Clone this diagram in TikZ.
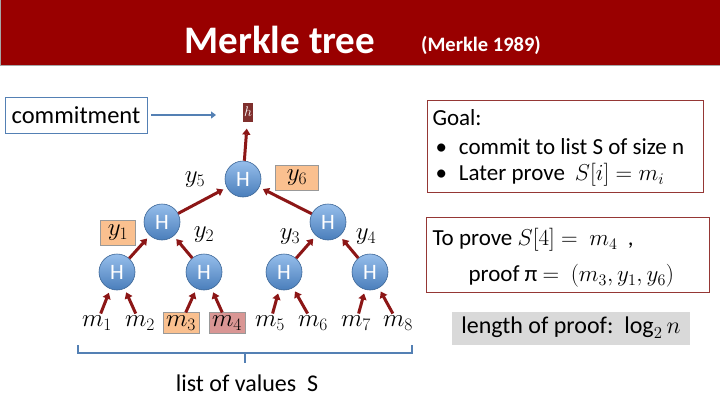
\RequirePackage{fix-cm}
\documentclass[tikz,border=0pt]{standalone}
\usepackage{fontspec}
\setmainfont{Carlito}
\usetikzlibrary{arrows.meta}
\definecolor{titlered}{RGB}{153,0,0}
\definecolor{arrowred}{RGB}{140,22,22}
\definecolor{steel}{RGB}{84,128,180}
\definecolor{boxred}{RGB}{149,55,53}
\definecolor{peach}{RGB}{250,192,143}
\definecolor{rose}{RGB}{217,150,148}
\definecolor{hblue}{RGB}{74,126,187}
\definecolor{hlight}{RGB}{150,190,235}
\tikzset{
  hnode/.style={circle, minimum size=36pt, inner sep=0pt, top color=hlight, bottom color=hblue, draw=hblue!80!black, line width=0.6pt, text=white, font=\fontsize{22}{24}\selectfont},
  redarrow/.style={draw=arrowred, line width=3pt, -{Triangle[length=6pt,width=8pt]}},
  leaf/.style={font=\fontsize{25}{27}\selectfont, inner sep=2pt},
  ylabel/.style={font=\fontsize{25}{27}\selectfont, inner sep=2pt},
  hilite/.style={fill=#1, draw=gray!80, line width=0.6pt, inner sep=3pt},
  boxtext/.style={anchor=west, font=\fontsize{23}{25}\selectfont}
}
\begin{document}
\begin{tikzpicture}[x=1pt,y=-1pt]
  \useasboundingbox (0,0) rectangle (720,405);
  \fill[white] (0,0) rectangle (720,405);
  \filldraw[fill=titlered, draw=gray!70] (0,-1) rectangle (720,65);
  \node (title) at (280,40) [text=white, font=\fontsize{39}{42}\selectfont\bfseries] {Merkle tree};
  \node (year) at (481,45) [text=white, font=\fontsize{20.5}{23}\selectfont\bfseries] {(Merkle 1989)};

  \node (commit) at (76,115) [draw=steel, line width=0.8pt, minimum width=142pt, minimum height=36pt, font=\fontsize{24.5}{26}\selectfont] {commitment};
  \coordinate (cend) at (216,115);
  \draw[draw=steel, line width=2.5pt, -{Triangle[length=5pt,width=7pt]}, shorten <=4pt] (commit) -- (cend);
  \node (h) at (248,112) [fill=boxred!85!black, text=white, inner sep=1.5pt, minimum height=19pt, font=\fontsize{14}{16}\selectfont] {$h$};

  \node (root) at (243,179) [hnode] {H};
  \node (n1) at (162,222) [hnode] {H};
  \node (n2) at (328,222) [hnode] {H};
  \node (l1) at (117,272) [hnode] {H};
  \node (l2) at (204,272) [hnode] {H};
  \node (l3) at (284,272) [hnode] {H};
  \node (l4) at (370,272) [hnode] {H};

  \node (m1) at (97,323) [leaf] {$m_1$};
  \node (m2) at (140,323) [leaf] {$m_2$};
  \node (m3) at (181,323) [leaf, hilite=peach] {$m_3$};
  \node (m4) at (227,323) [leaf, hilite=rose] {$m_4$};
  \node (m5) at (270,323) [leaf] {$m_5$};
  \node (m6) at (313,323) [leaf] {$m_6$};
  \node (m7) at (356,323) [leaf] {$m_7$};
  \node (m8) at (398,323) [leaf] {$m_8$};

  \node (y5) at (195,180) [ylabel] {$y_5$};
  \node (y6) at (297,178) [ylabel, hilite=peach, minimum width=43pt, minimum height=25pt, inner sep=1pt] {$y_6$};
  \node (y1) at (118,233) [ylabel, hilite=peach, minimum width=35pt, minimum height=25pt, inner sep=1pt] {$y_1$};
  \node (y2) at (204,235) [ylabel] {$y_2$};
  \node (y3) at (290,237) [ylabel] {$y_3$};
  \node (y4) at (366,237) [ylabel] {$y_4$};

  \draw[redarrow, shorten >=7pt] (root) -- (h);
  \draw[redarrow, shorten >=4pt] (n1) -- (root);
  \draw[redarrow, shorten >=4pt] (n2) -- (root);
  \draw[redarrow, shorten >=4pt] (l1) -- (n1);
  \draw[redarrow, shorten >=4pt] (l2) -- (n1);
  \draw[redarrow, shorten >=4pt] (l3) -- (n2);
  \draw[redarrow, shorten >=4pt] (l4) -- (n2);
  \draw[redarrow, shorten >=4pt] (m1) -- (l1);
  \draw[redarrow, shorten >=4pt] (m2) -- (l1);
  \draw[redarrow, shorten >=4pt] (m3) -- (l2);
  \draw[redarrow, shorten >=4pt] (m4) -- (l2);
  \draw[redarrow, shorten >=4pt] (m5) -- (l3);
  \draw[redarrow, shorten >=4pt] (m6) -- (l3);
  \draw[redarrow, shorten >=4pt] (m7) -- (l4);
  \draw[redarrow, shorten >=4pt] (m8) -- (l4);

  \draw[steel, line width=2.5pt] (78,345) |- (412,353) -- (412,345);
  \draw[steel, line width=2.5pt] (245,353) -- (245,363);
  \node (list) at (247,383) [font=\fontsize{24}{26}\selectfont] {list of values~~S};

  \node (goal) at (565,146) [draw=boxred, line width=0.8pt, minimum width=276pt, minimum height=92pt] {};
  \node (goalt) at (429,118) [boxtext] {Goal:};
  \node (g1) at (432,147) [boxtext] {\textbullet\hspace{12pt}commit to list S of size n};
  \node (g2) at (432,175) [boxtext] {\textbullet\hspace{12pt}Later prove\hspace{10pt}$S[i]=m_i$};

  \node (proof) at (568,255) [draw=boxred, line width=0.8pt, minimum width=283pt, minimum height=75pt] {};
  \node (p1) at (429,240) [boxtext] {To prove $S[4] =\ m_4$\ \ ,};
  \node (p2) at (465,276) [boxtext] {proof π $=\ (m_3,y_1,y_6)$};

  \node (len) at (571,328) [fill=gray!30, minimum width=238pt, minimum height=33pt, font=\fontsize{24}{26}\selectfont] {length of proof:\ \ $\log_2 n$};
\end{tikzpicture}
\end{document}
